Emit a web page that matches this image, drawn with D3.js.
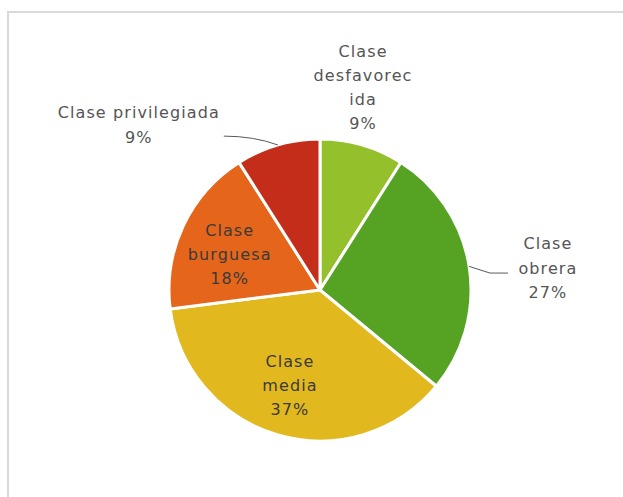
<!DOCTYPE html>
<html><head><meta charset="utf-8">
<script src="https://cdn.jsdelivr.net/npm/d3@7"></script>
<style>html,body{margin:0;padding:0;background:#fff;}svg{display:block;}</style>
</head><body>
<svg id="c" width="623" height="497"></svg>
<script>
const categories = ["Clase desfavorecida", "Clase obrera", "Clase media", "Clase burguesa", "Clase privilegiada"];
const values = [9, 27, 37, 18, 9];
const labelLines = [
  ["Clase", "desfavorec", "ida", "9%"],
  ["Clase", "obrera", "27%"],
  ["Clase", "media", "37%"],
  ["Clase", "burguesa", "18%"],
  ["Clase privilegiada", "9%"]
];
const colors = ["#93C02B", "#56A324", "#E2B81F", "#E5661A", "#C42D1A"];

// layout config (label placement relative to slice)
const labelInside = [false, false, true, true, false];
const labelRadius = [207, 229, 100, 97, 245];
const labelAngleShift = [-4.2, 3.5, 1.3, -3.8, -31.5]; // degrees
const leader = [false, true, false, false, true];

const svg = d3.select("#c");
svg.append("rect").attr("x", 8).attr("y", 12).attr("width", 640).attr("height", 520)
  .attr("fill", "none").attr("stroke", "#d9d9d9").attr("stroke-width", 2);

const cx = 320, cy = 290, R = 151;
const g = svg.append("g").attr("transform", `translate(${cx},${cy})`);
const pie = d3.pie().sort(null).value(d => d)(values);
const arc = d3.arc().innerRadius(0).outerRadius(R);

g.selectAll("path.slice").data(pie).join("path").attr("class", "slice")
  .attr("d", arc).attr("fill", (d, i) => colors[i])
  .attr("stroke", "#fff").attr("stroke-width", 3).attr("stroke-linejoin", "round");

const lineH = 24.3;
pie.forEach((d, i) => {
  const mid = (d.startAngle + d.endAngle) / 2;
  const a = mid + labelAngleShift[i] * Math.PI / 180;
  const lx = labelRadius[i] * Math.sin(a), ly = -labelRadius[i] * Math.cos(a);
  const lines = labelLines[i];
  const t = g.append("text").attr("text-anchor", "middle")
    .attr("font-family", "DejaVu Sans, sans-serif").attr("font-size", 16)
    .attr("letter-spacing", 1.1)
    .attr("fill", labelInside[i] ? "#3a3a3a" : "#555555");
  lines.forEach((s, k) => {
    t.append("tspan").attr("x", lx).attr("y", ly + (k - (lines.length - 1) / 2) * lineH + 5.5).text(s);
  });
  if (leader[i]) {
    const ex = R * Math.sin(mid), ey = -R * Math.cos(mid);
    let path;
    if (lx > 0) {
      const endX = lx - 40, endY = ly + 5;
      path = `M${ex},${ey} L${endX - 18},${endY} L${endX},${endY}`;
    } else {
      const endX = lx + 85, endY = ly + 11;
      path = `M${ex},${ey} Q${endX + 30},${endY} ${endX},${endY}`;
    }
    g.append("path").attr("d", path).attr("fill", "none")
      .attr("stroke", "#595959").attr("stroke-width", 1);
  }
});
</script>
</body></html>
